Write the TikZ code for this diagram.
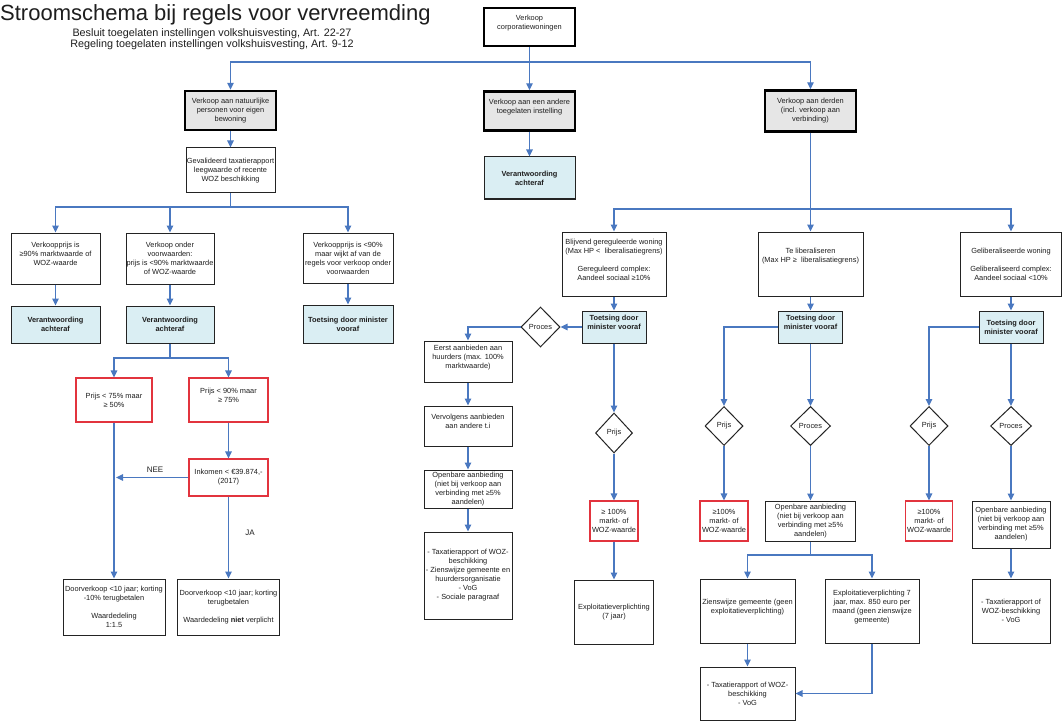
\documentclass[tikz,border=0pt]{standalone}
\usepackage{fontspec}
\setmainfont{Liberation Sans}
\usetikzlibrary{arrows.meta,shapes.geometric}
\definecolor{lineblue}{RGB}{74,120,192}
\definecolor{boxgray}{RGB}{230,230,230}
\definecolor{boxblue}{RGB}{218,238,243}
\definecolor{boxred}{RGB}{226,52,62}
\definecolor{ink}{RGB}{30,30,30}
\definecolor{frame}{RGB}{35,35,35}
\tikzset{
  sz/.style 2 args={minimum width=#1pt, minimum height=#2pt},
  basebox/.style={align=center, inner sep=0.5pt, text=ink, font=\fontsize{7.4}{9}\selectfont},
  plain/.style={basebox, draw=frame, line width=1.0pt, fill=white},
  heavy/.style={basebox, draw=black, line width=2.4pt, fill=white},
  verant/.style={basebox, draw=frame, line width=1.0pt, fill=boxblue, font=\fontsize{7.4}{9}\selectfont\bfseries},
  redbox/.style={basebox, draw=boxred, line width=1.1pt, fill=white},
  dia/.style={basebox, diamond, draw=frame, line width=1.0pt, fill=white, inner sep=0pt},
  conn/.style={draw=lineblue, line width=1.4pt, -{Triangle[length=7pt,width=6.5pt]}},
  link/.style={draw=lineblue, line width=1.4pt},
  lbl/.style={inner sep=0pt, text=ink, font=\fontsize{8}{9}\selectfont}
}
\begin{document}
\begin{tikzpicture}[x=1pt,y=-1pt]
\useasboundingbox (0,0) rectangle (1062,722);
\fill[white] (0,0) rectangle (1062,722);

% title
\node[anchor=base west, inner sep=0pt, text=ink, font=\fontsize{22}{26}\selectfont] (title) at (0,21) {Stroomschema bij regels voor vervreemding};
\node[anchor=base, inner sep=0pt, text=ink, font=\fontsize{10.8}{13}\selectfont] (sub1) at (212,37) {Besluit toegelaten instellingen volkshuisvesting, Art. 22-27};
\node[anchor=base, inner sep=0pt, text=ink, font=\fontsize{10.8}{13}\selectfont] (sub2) at (212,48) {Regeling toegelaten instellingen volkshuisvesting, Art. 9-12};

% level 1
\node[heavy, sz={91}{38}] (top) at (529.5,27) {Verkoop\\corporatiewoningen\\\mbox{}};
\node[heavy, fill=boxgray, sz={91}{39}] (nat) at (230.5,110.5) {Verkoop aan natuurlijke\\personen voor eigen\\bewoning};
\node[heavy, fill=boxgray, sz={91}{39}] (andere) at (529.5,111) {Verkoop aan een andere\\toegelaten instelling\\\mbox{}};
\node[heavy, fill=boxgray, sz={91}{41}] (derden) at (810.5,111) {Verkoop aan derden\\(incl. verkoop aan\\verbinding)};
\node[verant, sz={91}{42}] (verand) at (529.5,178) {Verantwoording\\achteraf};
\node[plain, sz={89}{45}] (geval) at (230.5,170.5) {Gevalideerd taxatierapport\\leegwaarde of recente\\WOZ beschikking};

% left branch
\node[plain, sz={89}{51}] (b1) at (55.5,258.5) {Verkoopprijs is\\≥90\% marktwaarde of\\WOZ-waarde\\\mbox{}};
\node[plain, sz={88}{51}] (b2) at (170,258.5) {Verkoop onder\\voorwaarden:\\prijs is <90\% marktwaarde\\of WOZ-waarde};
\node[plain, sz={90}{50}] (b3) at (348,258) {Verkoopprijs is <90\%\\maar wijkt af van de\\regels voor verkoop onder\\voorwaarden};
\node[verant, sz={89}{37}] (b1v) at (55.5,324.5) {Verantwoording\\achteraf};
\node[verant, sz={88}{37}] (b2v) at (170,324.5) {Verantwoording\\achteraf};
\node[verant, sz={90}{38}] (b3v) at (348,324) {Toetsing door minister\\vooraf};

\node[redbox, sz={76}{44}] (r1) at (114,400) {Prijs < 75\% maar\\≥ 50\%};
\node[redbox, sz={79}{44}] (r2) at (228.5,400) {Prijs < 90\% maar\\≥ 75\%\\\mbox{}};
\node[redbox, sz={79}{37}] (inkomen) at (228.5,477.5) {Inkomen < €39.874,-\\(2017)};
\node[plain, sz={102}{56}] (d1) at (114,607) {Doorverkoop <10 jaar; korting\\-10\% terugbetalen\\\mbox{}\\Waardedeling\\1:1.5};
\node[plain, sz={102}{56}] (d2) at (228.5,607) {Doorverkoop <10 jaar; korting\\terugbetalen\\\mbox{}\\Waardedeling \textbf{niet} verplicht};
\node[lbl] (nee) at (155,469.5) {NEE};
\node[lbl] (ja) at (250,532.5) {JA};

% right part: level 2
\node[plain, sz={104}{64}] (g1) at (614,264) {Blijvend gereguleerde woning\\(Max HP <\ \ liberalisatiegrens)\\\mbox{}\\Gereguleerd complex:\\Aandeel sociaal ≥10\%\\\mbox{}};
\node[plain, sz={105}{64}] (g2) at (810.5,264) {Te liberaliseren\\(Max HP ≥\ \ liberalisatiegrens)\\\mbox{}\\\mbox{}};
\node[plain, sz={101}{64}] (g3) at (1011,264) {Geliberaliseerde woning\\\mbox{}\\Geliberaliseerd complex:\\Aandeel sociaal <10\%};

\node[verant, sz={64}{32}] (t1) at (614,327) {Toetsing door\\minister vooraf\\\mbox{}};
\node[verant, sz={64}{32}] (t2) at (810.5,327) {Toetsing door\\minister vooraf\\\mbox{}};
\node[verant, sz={64}{32}] (t3) at (1011,327) {Toetsing door\\minister vooraf};

% gereguleerd column
\node[dia, sz={39}{40}] (p1) at (540.5,327) {Proces};
\node[plain, sz={88}{41}] (e1) at (468,361.5) {Eerst aanbieden aan\\huurders (max. 100\%\\marktwaarde)\\\mbox{}};
\node[plain, sz={88}{40}] (e2) at (468,426) {Vervolgens aanbieden\\aan andere t.i\\\mbox{}};
\node[plain, sz={88}{38}] (e3) at (468,489) {Openbare aanbieding\\(niet bij verkoop aan\\verbinding met ≥5\%\\aandelen)};
\node[plain, sz={88}{87}] (e4) at (468,575.5) {- Taxatierapport of WOZ-\\beschikking\\- Zienswijze gemeente en\\huurdersorganisatie\\- VoG\\- Sociale paragraaf};
\node[dia, sz={37}{40}] (q1) at (614,433) {Prijs};
\node[redbox, sz={48}{40}] (rr1) at (614,521) {≥ 100\%\\markt- of\\WOZ-waarde};
\node[plain, sz={79}{64}] (x1) at (614,612) {Exploitatieverplichting\\(7 jaar)};

% te liberaliseren column
\node[dia, sz={38}{39}] (q2) at (724,426) {Prijs};
\node[dia, sz={40}{39}] (p2) at (810.5,426) {Proces};
\node[redbox, sz={48}{40}] (rr2) at (724,521) {≥100\%\\markt- of\\WOZ-waarde};
\node[plain, sz={90}{40}] (o2) at (810.5,521) {Openbare aanbieding\\(niet bij verkoop aan\\verbinding met ≥5\%\\aandelen)};
\node[plain, sz={95}{64}] (z1) at (747.5,611) {Zienswijze gemeente (geen\\exploitatieverplichting)\\\mbox{}};
\node[plain, sz={94}{64}] (z2) at (872,611) {Exploitatieverplichting 7\\jaar, max. 850 euro per\\maand (geen zienswijze\\gemeente)\\\mbox{}};
\node[plain, sz={95}{53}] (z3) at (747.5,693.5) {- Taxatierapport of WOZ-\\beschikking\\- VoG};

% geliberaliseerd column
\node[dia, sz={38}{39}] (q3) at (929,426) {Prijs};
\node[dia, sz={41}{39}] (p3) at (1011,426) {Proces};
\node[redbox, sz={47}{40}] (rr3) at (929,521) {≥100\%\\markt- of\\WOZ-waarde};
\node[plain, sz={78}{47}] (o3) at (1011,524.5) {Openbare aanbieding\\(niet bij verkoop aan\\verbinding met ≥5\%\\aandelen)};
\node[plain, sz={78}{64}] (tx3) at (1011,611) {- Taxatierapport of\\WOZ-beschikking\\- VoG};

% junction coordinates
\coordinate (j0) at (529.5,62);
\coordinate (j1) at (230.5,207);
\coordinate (j2) at (170,358);
\coordinate (j3) at (810.5,209);
\coordinate (j4) at (810.5,555);
\coordinate (neeend) at (116,477.5);

% connectors
\draw[conn] (top.south) -- (andere.north);
\draw[conn] (j0) -| (nat.north);
\draw[conn] (j0) -| (derden.north);
\draw[conn] (andere) -- (verand);
\draw[conn] (nat) -- (geval);

\draw[link] (geval.south) -- (j1);
\draw[conn] (j1) -| (b1.north);
\draw[conn] (j1) -| (b2.north);
\draw[conn] (j1) -| (b3.north);
\draw[conn] (b1) -- (b1v);
\draw[conn] (b2) -- (b2v);
\draw[conn] (b3) -- (b3v);
\draw[link] (b2v.south) -- (j2);
\draw[conn] (j2) -| (r1.north);
\draw[conn] (j2) -| (r2.north);
\draw[conn] (r2) -- (inkomen);
\draw[conn] (r1) -- (d1);
\draw[conn] (inkomen) -- (d2);
\draw[conn] (inkomen.west) -- (neeend);

\draw[conn] (derden.south) -- (g2.north);
\draw[conn] (j3) -| (g1.north);
\draw[conn] (j3) -| (g3.north);
\draw[conn] (g1) -- (t1);
\draw[conn] (g2) -- (t2);
\draw[conn] (g3) -- (t3);

\draw[conn] (t1.west) -- (p1.east);
\draw[conn] (p1.west) -| (e1.north);
\draw[conn] (e1) -- (e2);
\draw[conn] (e2) -- (e3);
\draw[conn] (e3) -- (e4);
\draw[conn] (t1) -- (q1);
\draw[conn] (q1) -- (rr1);
\draw[conn] (rr1) -- (x1);

\draw[conn] (t2.west) -| (q2.north);
\draw[conn] (t2) -- (p2);
\draw[conn] (q2) -- (rr2);
\draw[conn] (p2) -- (o2);
\draw[link] (o2.south) -- (j4);
\draw[conn] (j4) -| (z1.north);
\draw[conn] (j4) -| (z2.north);
\draw[conn] (z1) -- (z3);
\draw[conn] (z2.south) |- (z3.east);

\draw[conn] (t3.west) -| (q3.north);
\draw[conn] (t3) -- (p3);
\draw[conn] (q3) -- (rr3);
\draw[conn] (p3) -- (o3);
\draw[conn] (o3) -- (tx3);
\end{tikzpicture}
\end{document}
